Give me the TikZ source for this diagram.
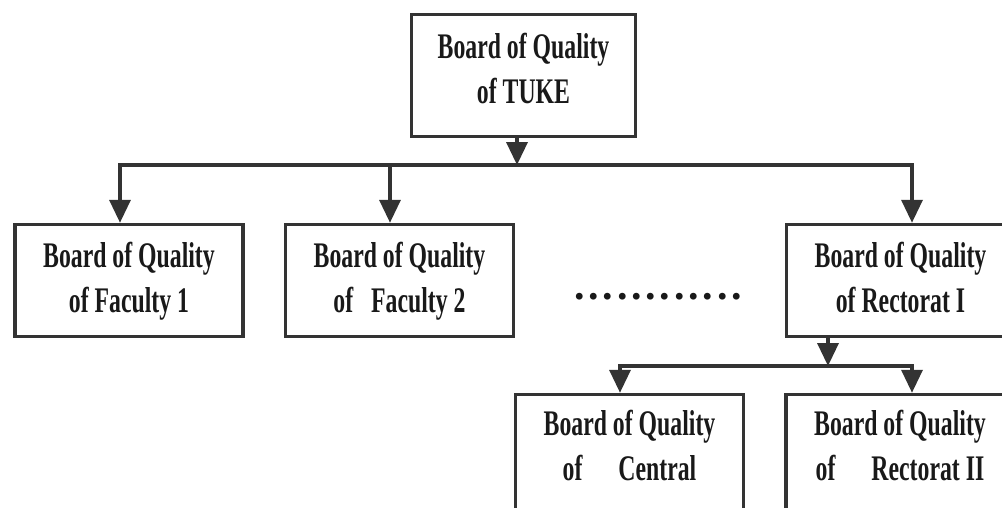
\documentclass[tikz,border=0pt]{standalone}
\usepackage{fontspec}
\newfontfamily\boardfont{Liberation Serif}[FakeStretch=0.66]
\newfontfamily\dotsfont{Liberation Serif}[LetterSpace=9]
\usetikzlibrary{arrows.meta, positioning}

\begin{document}
\begin{tikzpicture}[x=1pt, y=-1pt,
	board/.style={draw=black!80, line width=3.5pt, minimum width=228pt, minimum height=112pt,
		align=center, inner sep=0pt, text=black!90,
		font=\boardfont\bfseries\fontsize{36}{45}\selectfont,
		execute at begin node={\rule{0pt}{76.5pt}}, execute at end node=\strut},
	cutoff/.style={minimum height=140pt, anchor=north,
		execute at end node={\rule[-45.5pt]{0pt}{0pt}}},
	link/.style={draw=black!80, line width=3.5pt},
	>={Triangle[length=23pt, width=21pt]}]

	\useasboundingbox (0,0) rectangle (1002,507);
	\clip (0,0) rectangle (1002,507);

	\node[board, minimum width=224pt, minimum height=122pt, execute at begin node={},
		execute at end node={\rule[-20.5pt]{0pt}{0pt}}] (tuke) at (523.5,75.5) {Board of Quality\\of TUKE};
	\node[board] (fac1) at (129,280.5) {Board of Quality\\of Faculty 1};
	\node[board, right=39pt of fac1] (fac2) {Board of Quality\\of\enspace Faculty 2};
	\node[board] (rect1) at (900.5,280.5) {Board of Quality\\of Rectorat I};
	\node[board, cutoff] (central) at (629.5,392.75) {Board of Quality\\of\quad Central};
	\node[board, cutoff, right=39pt of central] (rect2) {Board of Quality\\of\quad Rectorat II};

	\node[font=\dotsfont\bfseries\fontsize{42}{45}\selectfont, text=black!90] (dots) at (658,297) {............};

	% first level
	\coordinate (j0) at (517,165);
	\coordinate (j1) at (120,165);
	\coordinate (j2) at (390,165);
	\coordinate (j3) at (912,165);
	\draw[link, ->] (tuke.south -| j0) -- (j0);
	\draw[link, ->] (j2) -- (j1) -- (fac1.north -| j1);
	\draw[link, ->] (j2) -- (fac2.north -| j2);
	\draw[link, ->] (j2) -- (j3) -- (rect1.north -| j3);

	% second level
	\coordinate (k0) at (828,366);
	\coordinate (k1) at (620,366);
	\coordinate (k2) at (912,366);
	\draw[link, ->] (rect1.south -| k0) -- (k0);
	\draw[link, ->] (k0) -- (k1) -- (central.north -| k1);
	\draw[link, ->] (k0) -- (k2) -- (rect2.north -| k2);

\end{tikzpicture}
\end{document}
